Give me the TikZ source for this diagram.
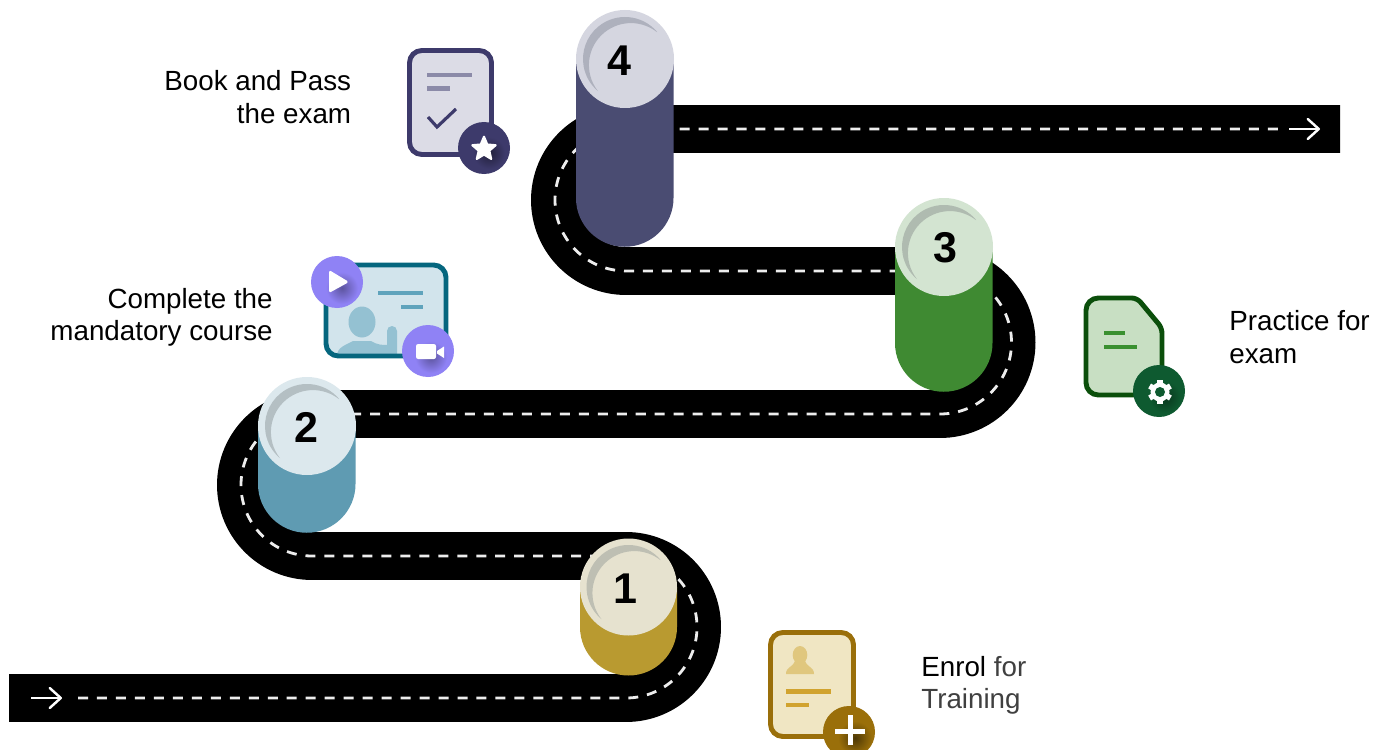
\documentclass[tikz,border=0pt]{standalone}
\usepackage{fontspec}
\setmainfont{Liberation Sans}
\usetikzlibrary{arrows.meta,shapes.geometric}
\definecolor{goldbody}{HTML}{B99A30}
\definecolor{goldtop}{HTML}{E6E2CF}
\definecolor{goldring}{HTML}{BEBFB3}
\definecolor{bluebody}{HTML}{5F9BB2}
\definecolor{bluetop}{HTML}{DCE8ED}
\definecolor{bluering}{HTML}{B4BFC3}
\definecolor{greenbody}{HTML}{3F8A32}
\definecolor{greentop}{HTML}{D3E4D1}
\definecolor{greenring}{HTML}{AFBBB0}
\definecolor{navybody}{HTML}{4A4C72}
\definecolor{navytop}{HTML}{D5D6E0}
\definecolor{navyring}{HTML}{AEB1BD}
\definecolor{enrolline}{HTML}{9A6F0A}
\definecolor{enrolfill}{HTML}{F0E6C3}
\definecolor{enrolbar}{HTML}{D1A32E}
\definecolor{enrolhead}{HTML}{E0C77E}
\definecolor{courseline}{HTML}{05667E}
\definecolor{coursefill}{HTML}{D2E4EC}
\definecolor{coursebar}{HTML}{5FA3BC}
\definecolor{coursehead}{HTML}{94C1D2}
\definecolor{purplebadge}{HTML}{8F82F5}
\definecolor{examline}{HTML}{3D3A6B}
\definecolor{examfill}{HTML}{DCDCE6}
\definecolor{exambar}{HTML}{8B8AA8}
\definecolor{practiceline}{HTML}{0B4F0B}
\definecolor{practicefill}{HTML}{C8DFC3}
\definecolor{practicebar}{HTML}{3A9030}
\definecolor{practicebadge}{HTML}{0E5A30}
\definecolor{greytext}{HTML}{404040}
\tikzset{
  road/.style={line width=27.3pt,black},
  roadmark/.style={line width=1.6pt,white!93!black,dash pattern=on 5.7pt off 5.1pt},
  roadarrow/.style={line width=1.4pt,white,-{Straight Barb[length=6.3pt,width=11.4pt,round]}},
  docline/.style={line width=2.8pt,rounded corners=7pt},
  docbar/.style={line width=2.3pt},
  ringarc/.style={insert path={arc[start angle=-40,end angle=-230,radius=42] arc[start angle=141.6,end angle=308.4,radius=42] -- cycle}},
  steplabel/.style={font=\fontsize{15.8}{18.5}\selectfont,inner sep=0pt},
  stepnumber/.style={font=\fontsize{24.5}{24.5}\selectfont\bfseries,inner sep=0pt},
}
\begin{document}
\begin{tikzpicture}[x=0.02cm,y=-0.02cm]
    \useasboundingbox (0,0) rectangle (1383,750);
    \clip (0,0) rectangle (1383,750);
    \fill[white] (0,0) rectangle (1383,750);
    % road
    \draw[road] (9,698) -- (626,698) arc[start angle=90,end angle=-90,radius=71] -- (312,556) arc[start angle=90,end angle=270,radius=71] -- (940,414) arc[start angle=90,end angle=-90,radius=71.5] -- (626,271) arc[start angle=90,end angle=270,radius=71] -- (1340,129);
    \draw[roadmark] (78,698) -- (626,698) arc[start angle=90,end angle=-90,radius=71] -- (312,556) arc[start angle=90,end angle=270,radius=71] -- (940,414) arc[start angle=90,end angle=-90,radius=71.5] -- (626,271) arc[start angle=90,end angle=270,radius=71] -- (1283,129);
    \coordinate (startarrowa) at (31,698);
    \coordinate (startarrowb) at (62,698);
    \coordinate (endarrowa) at (1289,129);
    \coordinate (endarrowb) at (1320,129);
    \draw[roadarrow] (startarrowa) -- (startarrowb);
    \draw[roadarrow] (endarrowa) -- (endarrowb);
    % step 1
    \fill[goldbody] (580,587) -- (677,587) -- (677,627) arc[start angle=0,end angle=180,radius=48.5] -- cycle;
    \fill[goldtop] (628.5,587) circle(48.5);
    \fill[goldring] (628.5,587) ++(-40:42) [ringarc];
    \node[stepnumber] (numone) at (625,589) {1};
    % step 2
    \fill[bluebody] (258,426) -- (355.5,426) -- (355.5,484) arc[start angle=0,end angle=180,radius=48.75] -- cycle;
    \fill[bluetop] (307,426) circle(49);
    \fill[bluering] (307,426) ++(-40:42) [ringarc];
    \node[stepnumber] (numtwo) at (306,427) {2};
    % step 3
    \fill[greenbody] (895,247) -- (992.5,247) -- (992.5,343) arc[start angle=0,end angle=180,radius=48.75] -- cycle;
    \fill[greentop] (944,247) circle(49);
    \fill[greenring] (944,247) ++(-40:42) [ringarc];
    \node[stepnumber] (numthree) at (945,248) {3};
    % step 4
    \fill[navybody] (576,59) -- (673.5,59) -- (673.5,198) arc[start angle=0,end angle=180,radius=48.75] -- cycle;
    \fill[navytop] (625,59) circle(49);
    \fill[navyring] (625,59) ++(-40:42) [ringarc];
    \node[stepnumber] (numfour) at (619,61) {4};
    % enrol icon
    \draw[docline,draw=enrolline,fill=enrolfill] (770.5,632.5) rectangle (853.5,736.5);
    \fill[enrolhead] (800,655) ellipse(7.3 and 9);
    \fill[enrolhead] (786,674) .. controls (786,667) and (792,668) .. (795,661) -- (805,661) .. controls (808,668) and (814,667) .. (814,674) -- cycle;
    \draw[docbar,enrolbar] (786,691.5) -- (831,691.5);
    \draw[docbar,enrolbar] (786,705) -- (809,705);
    \fill[enrolline] (849,732) circle(26);
    \shade[inner color=black!50!enrolline,outer color=enrolline] (855,738) circle(17);
    \fill[white] (835,728.5) rectangle (865,733.5);
    \fill[white] (847.5,715) rectangle (852.5,745);
    % course icon
    \fill[coursefill,rounded corners=7pt] (326,265) rectangle (446,356);
    \fill[coursehead] (362,322) ellipse(13.5 and 15.5);
    \fill[coursehead] (337,356) .. controls (337,347) and (346,345) .. (353,341) -- (371,341) .. controls (377,345) and (383,345) .. (387,345) -- (387,331) arc[start angle=180,end angle=360,radius=5] -- (397,356) -- cycle;
    \draw[docline,draw=courseline] (326,265) rectangle (446,356);
    \draw[docbar,coursebar] (378,293) -- (423,293);
    \draw[docbar,coursebar] (401,307) -- (423,307);
    \fill[purplebadge] (337,282) circle(26);
    \shade[inner color=black!35!purplebadge,outer color=purplebadge] (342,288) circle(16);
    \fill[white,rounded corners=1pt] (329,270) -- (349,282) -- (329,293) -- cycle;
    \fill[purplebadge] (428,351) circle(26);
    \shade[inner color=black!35!purplebadge,outer color=purplebadge] (431,357) circle(16);
    \fill[white,rounded corners=1.2pt] (416,344) rectangle (436,359);
    \fill[white] (437,351) -- (444,346.5) -- (444,358) -- (437,353.5) -- cycle;
    % exam icon
    \draw[docline,draw=examline,fill=examfill] (409.5,50.5) rectangle (491.5,154.5);
    \draw[docbar,exambar] (427,75) -- (472,75);
    \draw[docbar,exambar] (427,88.5) -- (450,88.5);
    \draw[line width=1.8pt,examline] (428,117) -- (437,127) -- (456,109);
    \fill[examline] (484,148) circle(26);
    \shade[inner color=black!45!examline,outer color=examline] (489,153) circle(16);
    \node[star,star points=5,star point ratio=2.2,fill=white,draw=white,line join=round,line width=1.2pt,minimum size=14pt,inner sep=0pt] (examstar) at (484,149) {};
    % practice icon
    \draw[line width=2.8pt,draw=practiceline,fill=practicefill] (1110,298) [rounded corners=3pt] -- (1137,298) -- (1162,328) [rounded corners=7pt] -- (1162,395) -- (1086,395) -- (1086,298) -- cycle;
    \draw[docbar,practicebar] (1104,333) -- (1125,333);
    \draw[docbar,practicebar] (1104,347) -- (1137,347);
    \fill[practicebadge] (1159,391) circle(26);
    \shade[inner color=black!40!practicebadge,outer color=practicebadge] (1165,397) circle(16);
    \fill[white] (1160,392) circle(9.5);
    \foreach \a in {30,90,...,330}
      \draw[white,line width=3.2pt] (1160,392) -- ++(\a:12);
    \fill[practicebadge] (1160,392) circle(5);
    % labels
    \node[steplabel,align=right,anchor=east] (labelexam) at (351.5,97) {Book and Pass\\the exam};
    \node[steplabel,align=right,anchor=east] (labelcourse) at (273,317.5) {Complete the\\mandatory course};
    \node[steplabel,align=left,anchor=west] (labelpractice) at (1229,337) {Practice for\\exam};
    \node[steplabel,align=left,anchor=west] (labelenrol) at (921,685.5) {Enrol \textcolor{greytext}{for}\\\textcolor{greytext}{Training}};
  \end{tikzpicture}
\end{document}
